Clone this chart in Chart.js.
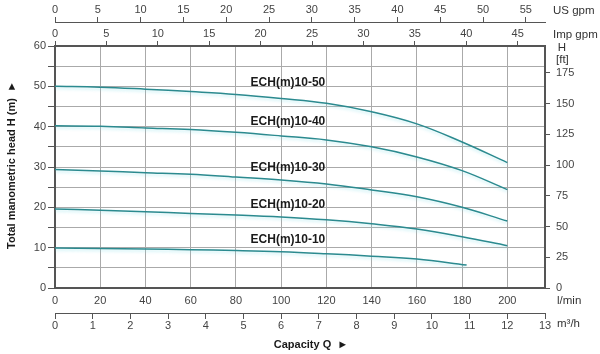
<!DOCTYPE html>
<html>
<head>
<meta charset="utf-8">
<script src="https://cdn.jsdelivr.net/npm/chart.js@4.4.0/dist/chart.umd.min.js"></script>
<style>
  html, body { margin: 0; padding: 0; background: #fff; }
</style>
</head>
<body>
<canvas id="pumpCanvas" width="600" height="354"></canvas>
<script>
// flow points in l/min, heads in metres
var flowLpm = [0, 20, 40, 60, 80, 100, 120, 140, 160, 180, 200];
var flowLpm1010 = [0, 20, 40, 60, 80, 100, 120, 140, 160, 182];
var head1050 = [50.0, 49.8, 49.3, 48.7, 48.0, 47.0, 45.8, 43.7, 40.7, 36.2, 31.1];
var head1040 = [40.2, 40.1, 39.7, 39.3, 38.6, 37.7, 36.7, 35.0, 32.5, 29.1, 24.4];
var head1030 = [29.4, 29.0, 28.6, 28.2, 27.5, 26.8, 25.8, 24.3, 22.6, 20.0, 16.6];
var head1020 = [19.6, 19.3, 18.9, 18.5, 18.1, 17.6, 16.9, 15.9, 14.6, 12.7, 10.5];
var head1010 = [9.9, 9.8, 9.7, 9.5, 9.3, 9.0, 8.5, 7.9, 7.2, 5.7];
var modelNames = ["ECH(m)10-50", "ECH(m)10-40", "ECH(m)10-30", "ECH(m)10-20", "ECH(m)10-10"];

var M3H_MAX = 13;
var LPM_MAX = M3H_MAX * 1000 / 60;
var US_GAL = 3.78541;
var IMP_GAL = 4.54609;
var M_TO_FT = 3.28084;

var lineColor = '#2b8a8f';
var gridColor = '#aaaaaa';
var axisColor = '#555555';
var tickText = '#444444';

Chart.defaults.font.family = '"Liberation Sans", Arial, sans-serif';
Chart.defaults.font.size = 11;
Chart.defaults.color = tickText;

function toPoints(xs, ys) {
  var pts = [];
  for (var i = 0; i < xs.length; i++) pts.push({x: xs[i], y: ys[i]});
  return pts;
}

function curve(name, xs, ys) {
  return {
    label: name,
    data: toPoints(xs, ys),
    xAxisID: 'x',
    yAxisID: 'y',
    borderColor: lineColor,
    borderWidth: 1.5,
    pointRadius: 0,
    fill: false,
    tension: 0.4
  };
}

// where each curve name sits (l/min, m)
var labelSpots = [[103, 50.9], [103, 41.2], [103, 29.9], [103, 20.6], [103, 11.9]];

var glowPlugin = {
  id: 'glow',
  beforeDatasetDraw: function(chart) {
    var c = chart.ctx;
    c.save();
    c.shadowColor = 'rgba(120, 220, 230, 0.4)';
    c.shadowBlur = 3;
    c.shadowOffsetY = 2;
  },
  afterDatasetDraw: function(chart) {
    chart.ctx.restore();
  }
};

var textPlugin = {
  id: 'texts',
  afterDraw: function(chart) {
    var c = chart.ctx;
    var sx = chart.scales.x, sy = chart.scales.y;
    c.save();
    c.fillStyle = '#1a1a1a';
    c.font = 'bold 12px "Liberation Sans", Arial, sans-serif';
    c.textAlign = 'center';
    c.textBaseline = 'middle';
    for (var i = 0; i < modelNames.length; i++) {
      c.fillText(modelNames[i], sx.getPixelForValue(labelSpots[i][0]), sy.getPixelForValue(labelSpots[i][1]));
    }

    // unit labels
    c.fillStyle = '#333';
    c.font = '11.5px "Liberation Sans", Arial, sans-serif';
    c.textAlign = 'left';
    c.fillText('US gpm', 553, 11);
    c.fillText('Imp gpm', 553, 35);
    c.fillText('[ft]', 556, 60);
    c.fillText('l/min', 557, 301);
    c.fillText('m³/h', 557, 324);
    c.textAlign = 'center';
    c.fillText('H', 562, 48);

    // axis titles
    c.fillStyle = '#1a1a1a';
    c.font = 'bold 11px "Liberation Sans", Arial, sans-serif';
    c.fillText('Capacity Q  ►', 311, 345);
    c.translate(12, 165);
    c.rotate(-Math.PI / 2);
    c.fillText('Total manometric head H (m)  ►', 0, 0);
    c.restore();
  }
};

var ctx = document.getElementById('pumpCanvas').getContext('2d');

var pumpChart = new Chart(ctx, {
  type: 'line',
  data: {
    datasets: [
      curve(modelNames[0], flowLpm, head1050),
      curve(modelNames[1], flowLpm, head1040),
      curve(modelNames[2], flowLpm, head1030),
      curve(modelNames[3], flowLpm, head1020),
      curve(modelNames[4], flowLpm1010, head1010)
    ]
  },
  options: {
    responsive: false,
    animation: false,
    layout: { padding: 0 },
    plugins: { legend: { display: false }, tooltip: { enabled: false } },
    scales: {
      x: {
        type: 'linear', position: 'bottom', weight: 0,
        min: 0, max: LPM_MAX,
        ticks: { stepSize: 20, includeBounds: false, padding: 6, maxRotation: 0, autoSkip: false },
        grid: { color: gridColor, drawTicks: false },
        border: { color: axisColor, width: 2 },
        afterFit: function(s) { s.height = 25; }
      },
      xm3: {
        type: 'linear', position: 'bottom', weight: 1,
        min: 0, max: M3H_MAX,
        ticks: { stepSize: 1, includeBounds: false, padding: 0, maxRotation: 0, autoSkip: false },
        grid: { drawOnChartArea: false, tickLength: 6, tickColor: axisColor },
        border: { color: axisColor, width: 1 },
        afterFit: function(s) { s.height = 41; }
      },
      y: {
        type: 'linear', position: 'left',
        min: 0, max: 60,
        ticks: {
          stepSize: 5, padding: 2, autoSkip: false,
          callback: function(v) { return v % 10 === 0 ? v : ''; }
        },
        grid: { color: gridColor, tickLength: 7, tickColor: axisColor },
        border: { color: axisColor, width: 2 },
        afterFit: function(s) { s.width = 55; }
      },
      yft: {
        type: 'linear', position: 'right',
        min: 0, max: 60 * M_TO_FT,
        ticks: { stepSize: 25, includeBounds: false, padding: 6, autoSkip: false },
        grid: { drawOnChartArea: false, tickLength: 5, tickColor: axisColor },
        border: { color: axisColor, width: 2 },
        afterFit: function(s) { s.width = 55; }
      },
      imp: {
        type: 'linear', position: 'top', weight: 0,
        min: 0, max: LPM_MAX / IMP_GAL,
        ticks: { stepSize: 5, includeBounds: false, padding: 0, maxRotation: 0, autoSkip: false },
        grid: { drawOnChartArea: false, tickLength: 5, tickColor: axisColor },
        border: { color: axisColor, width: 2 },
        afterFit: function(s) { s.height = 24; }
      },
      us: {
        type: 'linear', position: 'top', weight: 1,
        min: 0, max: LPM_MAX / US_GAL,
        ticks: { stepSize: 5, includeBounds: false, padding: 0, maxRotation: 0, autoSkip: false },
        grid: { drawOnChartArea: false, tickLength: 5, tickColor: axisColor },
        border: { color: axisColor, width: 1 },
        afterFit: function(s) { s.height = 22; }
      }
    }
  },
  plugins: [glowPlugin, textPlugin]
});
</script>
</body>
</html>
